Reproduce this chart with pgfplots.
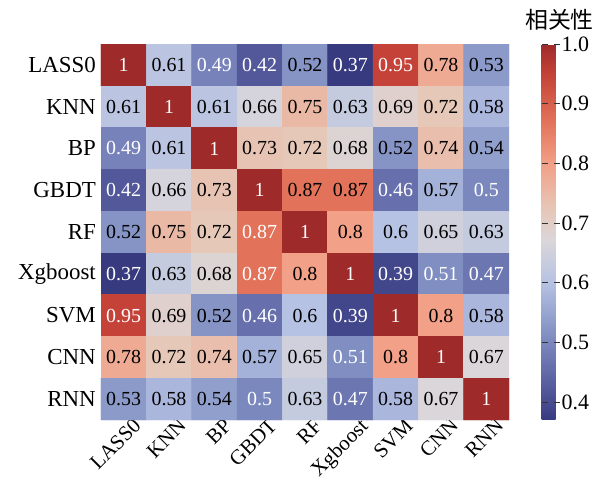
\documentclass[border=0pt]{standalone}
\usepackage{pgfplots}
\pgfplotsset{compat=1.18}
\usepackage{pgfplotstable}
\usepackage{fontspec}
\setmainfont{Liberation Serif}
\newfontfamily\cjk{Noto Sans CJK SC}
\pgfplotstableread{
x y c w
0 0 1 1
1 0 0.61 0
2 0 0.49 1
3 0 0.42 1
4 0 0.52 0
5 0 0.37 1
6 0 0.95 1
7 0 0.78 0
8 0 0.53 0
0 1 0.61 0
1 1 1 1
2 1 0.61 0
3 1 0.66 0
4 1 0.75 0
5 1 0.63 0
6 1 0.69 0
7 1 0.72 0
8 1 0.58 0
0 2 0.49 1
1 2 0.61 0
2 2 1 1
3 2 0.73 0
4 2 0.72 0
5 2 0.68 0
6 2 0.52 0
7 2 0.74 0
8 2 0.54 0
0 3 0.42 1
1 3 0.66 0
2 3 0.73 0
3 3 1 1
4 3 0.87 0
5 3 0.87 0
6 3 0.46 1
7 3 0.57 0
8 3 0.5 1
0 4 0.52 0
1 4 0.75 0
2 4 0.72 0
3 4 0.87 1
4 4 1 1
5 4 0.8 0
6 4 0.6 0
7 4 0.65 0
8 4 0.63 0
0 5 0.37 1
1 5 0.63 0
2 5 0.68 0
3 5 0.87 1
4 5 0.8 0
5 5 1 1
6 5 0.39 1
7 5 0.51 1
8 5 0.47 1
0 6 0.95 1
1 6 0.69 0
2 6 0.52 0
3 6 0.46 1
4 6 0.6 0
5 6 0.39 1
6 6 1 1
7 6 0.8 0
8 6 0.58 0
0 7 0.78 0
1 7 0.72 0
2 7 0.74 0
3 7 0.57 0
4 7 0.65 0
5 7 0.51 1
6 7 0.8 0
7 7 1 1
8 7 0.67 0
0 8 0.53 0
1 8 0.58 0
2 8 0.54 0
3 8 0.5 1
4 8 0.63 0
5 8 0.47 1
6 8 0.58 0
7 8 0.67 0
8 8 1 1
}\datatable
\pgfplotsset{
  colormap={cw}{rgb255(3.7cm)=(56,58,128) rgb255(4.5cm)=(98,106,168) rgb255(5.2cm)=(133,148,197) rgb255(6cm)=(182,194,227) rgb255(6.7cm)=(218,214,218) rgb255(7.2cm)=(230,200,185) rgb255(8cm)=(242,160,135) rgb255(8.7cm)=(226,115,90) rgb255(9.5cm)=(196,66,56) rgb255(10cm)=(158,42,42)}
}
\begin{document}
\begin{tikzpicture}
\begin{axis}[
  at={(0,0)}, anchor=south west,
  width=408bp, height=376bp, scale only axis,
  xmin=-0.5, xmax=8.5, ymin=-0.5, ymax=8.5, y dir=reverse,
  xtick={0,...,8}, ytick={0,...,8},
  xticklabels={LASS0,KNN,BP,GBDT,RF,Xgboost,SVM,CNN,RNN},
  yticklabels={LASS0,KNN,BP,GBDT,RF,Xgboost,SVM,CNN,RNN},
  x tick label style={rotate=45, anchor=north east, font=\fontsize{21}{24}\selectfont, inner sep=0bp, xshift=8bp, yshift=-4bp},
  y tick label style={font=\fontsize{23}{26}\selectfont, inner sep=2bp, xshift=-3bp},
  major tick length=0pt,
  axis line style={draw=none},
  tick style={draw=none},
  /pgf/number format/assume math mode=true,
  colormap name=cw,
  point meta min=0.37, point meta max=1,
  colorbar,
  colorbar style={
    at={(parent axis.north east)}, anchor=north west, xshift=24bp,
    width=18bp, height=376bp, scale only axis,
    ytick={0.4,0.5,0.6,0.7,0.8,0.9,1.0},
    yticklabel style={/pgf/number format/fixed, /pgf/number format/precision=1, /pgf/number format/zerofill, /pgf/number format/assume math mode=true},
    yticklabel style={font=\fontsize{22}{26}\selectfont, inner sep=2bp},
    tick align=inside, major tick length=6bp,
    tick style={draw=black!80, line width=0.8pt},
    axis line style={draw=none},
    title={\cjk 相关性},
    title style={at={(0.5,1)}, anchor=base, yshift=10bp, xshift=9bp, font=\fontsize{23}{26}\selectfont},
  },
]
\addplot[matrix plot*, mesh/cols=9, point meta=\thisrow{c}] table[x=x, y=y] {\datatable};
\addplot[only marks, mark=none, point meta=\thisrow{c},
  restrict expr to domain={\thisrow{w}}{-0.5:0.5},
  nodes near coords={\pgfmathprintnumber[fixed,precision=2,assume math mode=true]{\pgfplotspointmeta}},
  nodes near coords style={anchor=center, font=\fontsize{20}{24}\selectfont, inner sep=0pt, text=black},
] table[x=x, y=y] {\datatable};
\addplot[only marks, mark=none, point meta=\thisrow{c},
  restrict expr to domain={\thisrow{w}}{0.5:1.5},
  nodes near coords={\pgfmathprintnumber[fixed,precision=2,assume math mode=true]{\pgfplotspointmeta}},
  nodes near coords style={anchor=center, font=\fontsize{20}{24}\selectfont, inner sep=0pt, text=white},
] table[x=x, y=y] {\datatable};
\end{axis}
\pgfresetboundingbox
\path (-101bp,-63bp) rectangle (494bp,420bp);
\end{tikzpicture}
\end{document}
